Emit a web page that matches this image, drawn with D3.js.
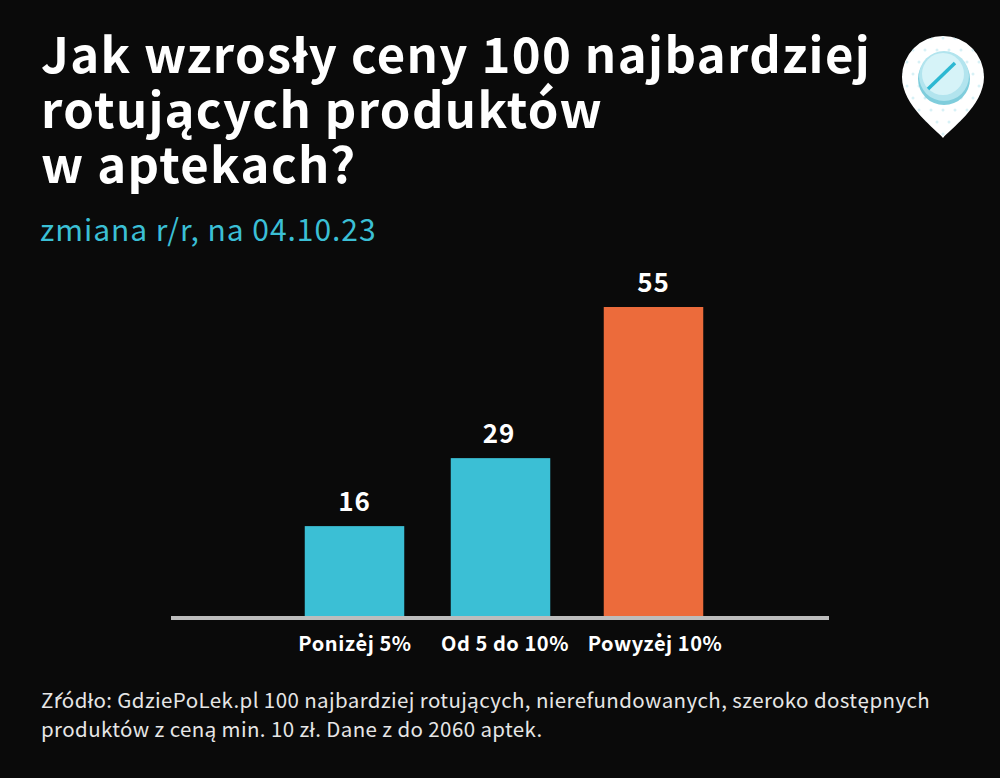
<!DOCTYPE html>
<html lang="pl">
<head>
  <meta charset="UTF-8">
  <title>Ceny w aptekach</title>
  <style>
    html, body { margin: 0; background: #0a0a0a; }
    svg { display: block; }
    text { font-family: "Noto Sans CJK JP", "Noto Sans", sans-serif; }
  </style>
</head>
<body>
  <svg id="chart" width="1000" height="778"></svg>
  <script src="https://cdnjs.cloudflare.com/ajax/libs/d3/7.8.5/d3.min.js"></script>
  <script>
    const categories = ["Poniżej 5%", "Od 5 do 10%", "Powyżej 10%"];
    // bar lengths as drawn in the picture: the middle bar is shorter than its printed 29
    const drawnValues = [16, 28.1, 55];
    const printedValues = ["16", "29", "55"];
    const barColors = ["#3bbfd5", "#3bbfd5", "#ec6b3b"];
    const titleLines = ["Jak wzrosły ceny 100 najbardziej", "rotujących produktów", "w aptekach?"];
    const subtitle = "zmiana r/r, na 04.10.23";
    const sourceLines = [
      "Źródło: GdziePoLek.pl 100 najbardziej rotujących, nierefundowanych, szeroko dostępnych",
      "produktów z ceną min. 10 zł. Dane z do 2060 aptek."
    ];

    const svg = d3.select("#chart");
    const baseY = 616;

    svg.append("rect").attr("width", 1000).attr("height", 778).attr("fill", "#0a0a0a");

    svg.selectAll(".title").data(titleLines).enter().append("text")
      .attr("class", "title")
      .attr("x", 41)
      .attr("y", (d, i) => 73 + i * 55)
      .attr("fill", "#fff")
      .attr("font-size", 49)
      .attr("font-weight", 700)
      .attr("letter-spacing", 1.4)
      .text(d => d);

    svg.append("text")
      .attr("x", 40).attr("y", 241)
      .attr("fill", "#3bbfd5")
      .attr("font-size", 30)
      .attr("letter-spacing", 0.95)
      .text(subtitle);

    // scales
    const x = d3.scaleBand().domain(categories).range([280, 730]);
    const y = d3.scaleLinear().domain([0, 55]).range([baseY, 307]);
    const barWidth = 99.5;
    // bars are not evenly spaced under their labels in the original
    const barNudge = [-0.5, -4.5, -1.5];
    const valueNudge = [0, -1.5, 0];
    const barX = (d, i) => x(d) + x.bandwidth() / 2 - barWidth / 2 + barNudge[i];

    svg.selectAll(".bar").data(categories).enter().append("rect")
      .attr("class", "bar")
      .attr("x", barX)
      .attr("y", (d, i) => y(drawnValues[i]))
      .attr("width", barWidth)
      .attr("height", (d, i) => baseY - y(drawnValues[i]))
      .attr("fill", (d, i) => barColors[i]);

    svg.selectAll(".val").data(categories).enter().append("text")
      .attr("class", "val")
      .attr("x", (d, i) => barX(d, i) + barWidth / 2 + valueNudge[i])
      .attr("y", (d, i) => y(drawnValues[i]) - 15)
      .attr("text-anchor", "middle")
      .attr("fill", "#fff")
      .attr("font-size", 26)
      .attr("font-weight", 700)
      .attr("letter-spacing", 0.8)
      .text((d, i) => printedValues[i]);

    // baseline
    svg.append("rect")
      .attr("x", 171).attr("y", baseY)
      .attr("width", 658).attr("height", 4)
      .attr("fill", "#bdbdbd");

    svg.selectAll(".cat").data(categories).enter().append("text")
      .attr("class", "cat")
      .attr("x", d => x(d) + x.bandwidth() / 2)
      .attr("y", 651)
      .attr("text-anchor", "middle")
      .attr("fill", "#fff")
      .attr("font-size", 20)
      .attr("font-weight", 700)
      .attr("letter-spacing", 0.55)
      .text(d => d);

    svg.selectAll(".src").data(sourceLines).enter().append("text")
      .attr("class", "src")
      .attr("x", 41)
      .attr("y", (d, i) => 708 + i * 29)
      .attr("fill", "#e6e6e6")
      .attr("font-size", 20.5)
      .attr("letter-spacing", 0.39)
      .text(d => d);

    // pill marker
    const pinPath = "M0,52 C-6,44 -41,20 -41,-9 A41,41 0 1 1 41,-9 C41,20 6,44 0,52 Z";
    const icon = svg.append("g").attr("transform", "translate(943,86)");
    svg.append("clipPath").attr("id", "pin").append("path").attr("d", pinPath);
    icon.append("path").attr("d", pinPath).attr("fill", "#fff");
    const dotLayer = icon.append("g").attr("clip-path", "url(#pin)");
    d3.range(-48, 49, 12).forEach((dy, j) => d3.range(-48, 49, 12).forEach(dx => {
      dotLayer.append("circle")
        .attr("cx", dx + (j % 2 ? 6 : 0)).attr("cy", dy)
        .attr("r", 1.5).attr("fill", "#d8f1f6");
    }));
    icon.append("circle").attr("cx", 1).attr("cy", -7).attr("r", 26).attr("fill", "#7fcddc");
    icon.append("circle").attr("cx", 1).attr("cy", -10).attr("r", 25).attr("fill", "#b2e4ee");
    icon.append("circle").attr("cx", 0).attr("cy", -12).attr("r", 21).attr("fill", "#d6f3f8");
    icon.append("line")
      .attr("x1", -15).attr("y1", 3).attr("x2", 12).attr("y2", -23)
      .attr("stroke", "#2db8d2").attr("stroke-width", 3.5);
  </script>
</body>
</html>
